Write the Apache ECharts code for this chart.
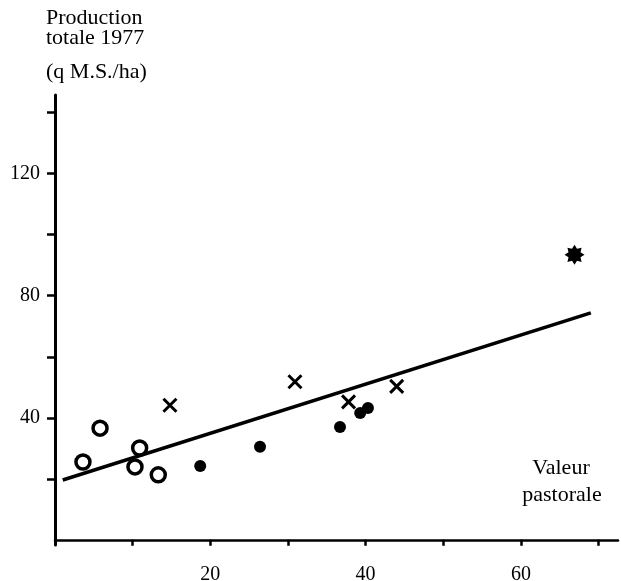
<!DOCTYPE html>
<html>
    <head>
        <meta charset="utf-8">
        <title>Production totale 1977 / Valeur pastorale</title>
        <script src="https://cdn.jsdelivr.net/npm/echarts@6/dist/echarts.min.js"></script>
    </head>
    <body style="margin:0;background:#fff">
        <div id="chart" style="width:621px;height:581px;"></div>
        <script type="text/javascript">
            // points: [valeur pastorale, production q M.S./ha]
            var rings=[[3.6,25.5],[5.8,36.6],[10.9,30.1],[10.3,23.9],[13.3,21.3]];
            var crosses=[[14.8,44.1],[30.9,51.8],[37.8,45.2],[44.0,50.3]];
            var dots=[[18.7,24.2],[26.4,30.5],[36.7,37.0],[39.3,41.6],[40.3,43.2]];
            var star=[[66.9,93.4]];
            // regression line ends
            var fitX=[1,69];
            var fitY=[19.6,74.4];
            var xTicks=[10,20,30,40,50,60,70];
            var xLabels=[20,40,60];
            var yTicks=[20,40,60,80,100,120,140];
            var yLabels=[40,80,120];

            var fit=fitX.map((x,i)=>[x,fitY[i]]);

            // 8 point star shape for the lone point
            var pts=[];
            for(var k=0;k<16;k++){
                var a=k*Math.PI/8, r=(k%2==0)?10:6.5;
                pts.push((10+r*Math.cos(a)).toFixed(2)+','+(10+r*Math.sin(a)).toFixed(2));
            }
            var starPath='path://M'+pts.join('L')+'Z';

            var font='"Liberation Serif", "Times New Roman", serif';
            var myChart=echarts.init(document.getElementById('chart'));
            var option={
                animation:false,
                backgroundColor:'#fff',
                grid:{left:55,right:3,top:95,bottom:36,outerBoundsMode:'none',containLabel:false},
                xAxis:{
                    type:'value',min:0,max:72.5,
                    splitLine:{show:false},
                    axisLine:{lineStyle:{color:'#000',width:2.5}},
                    axisTick:{customValues:xTicks,length:6,lineStyle:{color:'#000',width:2.5}},
                    axisLabel:{customValues:xLabels,color:'#000',fontFamily:font,fontSize:20,margin:20}
                },
                yAxis:{
                    type:'value',min:-1.7,max:145.8,
                    splitLine:{show:false},
                    axisLine:{lineStyle:{color:'#000',width:3}},
                    axisTick:{customValues:yTicks,length:8,lineStyle:{color:'#000',width:2.5}},
                    axisLabel:{customValues:yLabels,color:'#000',fontFamily:font,fontSize:20,margin:15}
                },
                graphic:[
                    {type:'text',left:46,top:7,style:{text:'Production',font:'22px '+font,fill:'#000'}},
                    {type:'text',left:46,top:27,style:{text:'totale 1977',font:'22px '+font,fill:'#000'}},
                    {type:'text',left:46,top:61,style:{text:'(q M.S./ha)',font:'22px '+font,fill:'#000'}},
                    {type:'text',x:561,y:457,style:{text:'Valeur',font:'22px '+font,fill:'#000',textAlign:'center'}},
                    {type:'text',x:562,y:484,style:{text:'pastorale',font:'22px '+font,fill:'#000',textAlign:'center'}}
                ],
                series:[
                    {name:'droite',type:'line',data:fit,symbol:'none',
                     lineStyle:{color:'#000',width:3.5}},
                    {name:'rings',type:'scatter',data:rings,symbol:'circle',symbolSize:14,
                     itemStyle:{color:'#fff',borderColor:'#000',borderWidth:3.5,opacity:1}},
                    {name:'crosses',type:'scatter',data:crosses,symbol:'path://M0,0L10,10M10,0L0,10',symbolSize:13,
                     itemStyle:{color:'none',borderColor:'#000',borderWidth:3,opacity:1}},
                    {name:'dots',type:'scatter',data:dots,symbol:'circle',symbolSize:12,
                     itemStyle:{color:'#000',opacity:1}},
                    {name:'star',type:'scatter',data:star,symbol:starPath,symbolSize:20,
                     itemStyle:{color:'#000',opacity:1}}
                ]
            };
            myChart.setOption(option);
        </script>
    </body>
</html>
